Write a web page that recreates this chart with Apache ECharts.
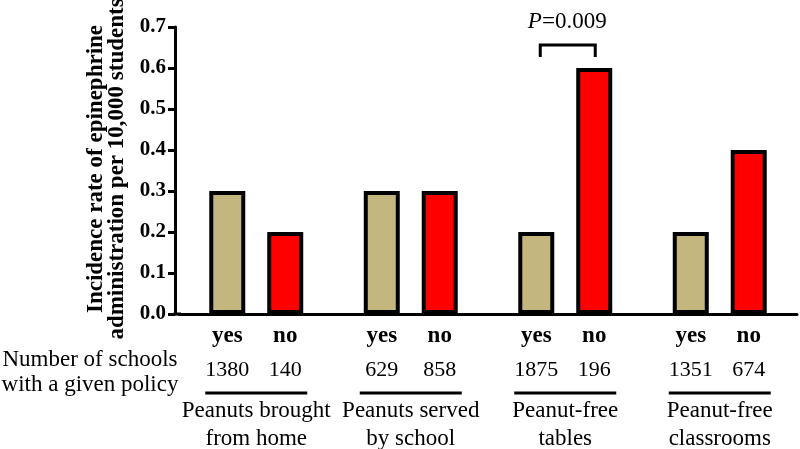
<!DOCTYPE html>
<html>
<head>
<meta charset="utf-8">
<script src="https://cdn.jsdelivr.net/npm/echarts@6/dist/echarts.min.js"></script>
<style>
html,body{margin:0;padding:0;background:#fff;}
#c{width:800px;height:449px;}
</style>
</head>
<body>
<div id="c"></div>
<script>
var categories = ['Peanuts brought\nfrom home', 'Peanuts served\nby school', 'Peanut-free\ntables', 'Peanut-free\nclassrooms'];
var yesValues = [0.3, 0.3, 0.2, 0.2];
var noValues = [0.2, 0.3, 0.6, 0.4];
var yesCounts = [1380, 629, 1875, 1351];
var noCounts = [140, 858, 196, 674];
var yTicks = [0.0, 0.1, 0.2, 0.3, 0.4, 0.5, 0.6, 0.7];
var pText = '0.009';
var pCategory = 2;

var SERIF = 'Liberation Serif';
var chart = echarts.init(document.getElementById('c'), null, {renderer: 'canvas'});

function barLabel(word, counts) {
  return {
    show: true,
    position: 'bottom',
    distance: 5,
    formatter: function (p) { return '{a|' + word + '}\n{b|' + counts[p.dataIndex] + '}'; },
    rich: {
      a: {fontFamily: SERIF, fontWeight: 'bold', fontSize: 23, color: '#000', lineHeight: 34, align: 'center'},
      b: {fontFamily: SERIF, fontWeight: 'normal', fontSize: 22, color: '#000', lineHeight: 34, align: 'center'}
    }
  };
}

var option = {
  animation: false,
  backgroundColor: '#fff',
  grid: {left: 179, right: 3, top: 27, bottom: 135, containLabel: false, outerBoundsMode: 'none'},
  xAxis: {
    type: 'category',
    data: categories,
    axisLine: {lineStyle: {color: '#000', width: 3}},
    axisTick: {show: false},
    axisLabel: {
      interval: 0,
      margin: 83, fontFamily: SERIF, fontSize: 23, color: '#000', lineHeight: 28
    }
  },
  yAxis: {
    type: 'value',
    min: yTicks[0], max: yTicks[yTicks.length - 1], interval: 0.1,
    offset: 4,
    splitLine: {show: false},
    axisLine: {show: true, lineStyle: {color: '#000', width: 3}},
    axisTick: {show: true, length: 7, lineStyle: {color: '#000', width: 3}},
    axisLabel: {
      margin: 9, fontFamily: SERIF, fontWeight: 'bold', fontSize: 21, color: '#000',
      formatter: function (v) { return v.toFixed(1); }
    }
  },
  series: [
    {
      type: 'bar', name: 'yes', data: yesValues, barWidth: 36, barGap: '61%',
      itemStyle: {color: '#C3B67F', borderColor: '#000', borderWidth: 4},
      label: barLabel('yes', yesCounts)
    },
    {
      type: 'bar', name: 'no', data: noValues, barWidth: 36,
      itemStyle: {color: '#FF0000', borderColor: '#000', borderWidth: 4},
      label: barLabel('no', noCounts)
    }
  ]
};
chart.setOption(option);

var graphics = [];
var y0 = chart.convertToPixel({yAxisIndex: 0}, 0);
graphics.push({type: 'line', shape: {x1: 173.5, y1: y0, x2: 181, y2: y0}, style: {stroke: '#000', lineWidth: 3}});
for (var i = 0; i < categories.length; i++) {
  var cx = chart.convertToPixel({xAxisIndex: 0}, i);
  graphics.push({type: 'line', shape: {x1: cx - 51, y1: y0 + 79, x2: cx + 51, y2: y0 + 79}, style: {stroke: '#000', lineWidth: 3}});
}
graphics.push({
  type: 'text', x: 90, y: y0 + 58,
  style: {text: 'Number of schools\nwith a given policy', fontFamily: SERIF, fontSize: 23, fill: '#000', align: 'center', verticalAlign: 'middle', lineHeight: 25}
});
graphics.push({
  type: 'text', x: 107, y: 169, rotation: Math.PI / 2,
  style: {text: 'Incidence rate of epinephrine\nadministration per 10,000 students', fontFamily: SERIF, fontWeight: 'bold', fontSize: 23, fill: '#000', align: 'center', verticalAlign: 'middle', lineHeight: 21}
});
var pc = chart.convertToPixel({xAxisIndex: 0}, pCategory);
var yb = chart.convertToPixel({yAxisIndex: 0}, 0.627);
var yt = chart.convertToPixel({yAxisIndex: 0}, 0.656);
graphics.push({type: 'polyline', shape: {points: [[pc - 25, yb], [pc - 25, yt], [pc + 30, yt], [pc + 30, yb]]}, style: {stroke: '#000', lineWidth: 3, fill: null}});
graphics.push({
  type: 'text', x: pc + 2, y: chart.convertToPixel({yAxisIndex: 0}, 0.712),
  style: {
    text: '{i|P}{n|=' + pText + '}', align: 'center', verticalAlign: 'middle',
    rich: {
      i: {fontFamily: SERIF, fontStyle: 'italic', fontSize: 23, fill: '#000'},
      n: {fontFamily: SERIF, fontSize: 23, fill: '#000'}
    }
  }
});
chart.setOption({graphic: graphics});
</script>
</body>
</html>
